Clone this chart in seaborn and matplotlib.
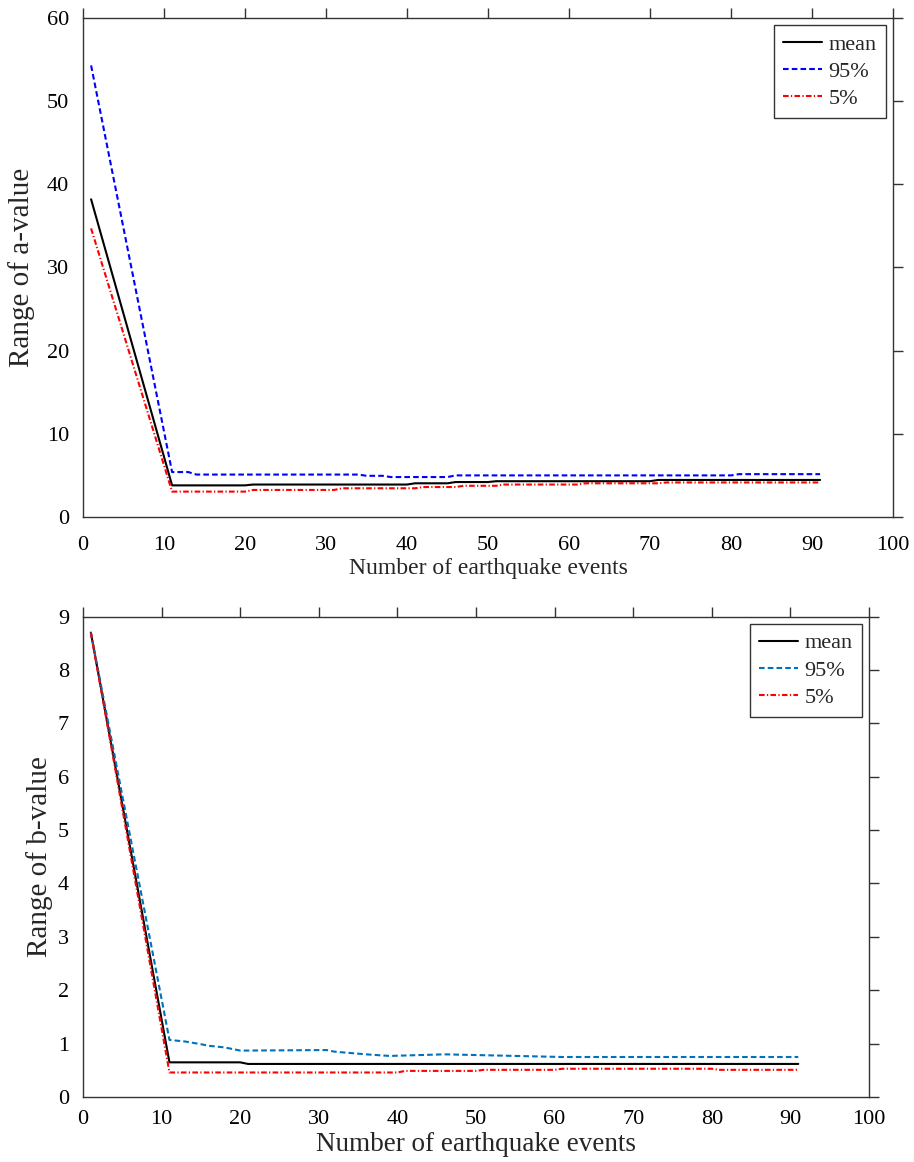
import numpy as np
import pandas as pd
import matplotlib
matplotlib.use("Agg")
import matplotlib.pyplot as plt
import seaborn as sns

# ---- data: range of a-value ----
a_mean_x = [1, 11, 20, 21, 40, 41, 45, 46, 50, 51, 70, 71, 91]
a_mean_y = [38.2, 3.8, 3.8, 3.9, 3.9, 4.05, 4.05, 4.2, 4.2, 4.3, 4.3, 4.45, 4.45]
a_p95_x = [1, 11, 13, 14, 34, 35, 37, 38, 45, 46, 80, 81, 91]
a_p95_y = [54.3, 5.4, 5.4, 5.1, 5.1, 4.95, 4.95, 4.8, 4.8, 5.0, 5.0, 5.15, 5.15]
a_p05_x = [1, 11, 20, 21, 31, 32, 41, 42, 46, 47, 51, 52, 61, 62, 71, 72, 91]
a_p05_y = [34.7, 3.05, 3.05, 3.25, 3.25, 3.45, 3.45, 3.6, 3.6, 3.75, 3.75, 3.9, 3.9, 4.05, 4.05, 4.15, 4.15]

# ---- data: range of b-value ----
b_mean_x = [1, 11, 20, 21, 91]
b_mean_y = [8.7, 0.65, 0.65, 0.62, 0.62]
b_p95_x = [1, 11, 13, 15, 16, 18, 20, 31, 32, 36, 39, 46, 55, 61, 91]
b_p95_y = [8.7, 1.07, 1.04, 0.99, 0.96, 0.93, 0.87, 0.88, 0.85, 0.80, 0.77, 0.80, 0.77, 0.75, 0.75]
b_p05_x = [1, 11, 40, 41, 50, 51, 60, 61, 80, 81, 91]
b_p05_y = [8.7, 0.46, 0.46, 0.49, 0.49, 0.51, 0.51, 0.53, 0.53, 0.51, 0.51]

legend_labels = ["mean", "95%", "5%"]
x_ticks = list(range(0, 101, 10))
a_ticks = list(range(0, 61, 10))
b_ticks = list(range(0, 10))

sns.set_theme(style="white")
plt.rcParams['font.family'] = ['Liberation Serif', 'DejaVu Serif']

fig = plt.figure(figsize=(9.14, 11.62), dpi=100)
ax1 = fig.add_axes([0.0908, 0.5551, 0.8862, 0.4294])
ax2 = fig.add_axes([0.0908, 0.0559, 0.8600, 0.4135])

DASH = (0, (2.7, 1.5))
DASHDOT = (0, (2.7, 1.1, 0.6, 1.1))

def draw(ax, xs, ys, colors, styles):
    for x, y, c, s, lab in zip(xs, ys, colors, styles, legend_labels):
        df = pd.DataFrame({"x": x, "y": y})
        sns.lineplot(data=df, x="x", y="y", ax=ax, color=c, linestyle=s,
                     linewidth=1.5, label=lab, estimator=None, sort=False)

draw(ax1, [a_mean_x, a_p95_x, a_p05_x], [a_mean_y, a_p95_y, a_p05_y],
     ["black", "#0000FF", "#FF0000"], ["-", DASH, DASHDOT])
draw(ax2, [b_mean_x, b_p95_x, b_p05_x], [b_mean_y, b_p95_y, b_p05_y],
     ["black", "#0072BD", "#FF0000"], ["-", DASH, DASHDOT])

cfg = [
    (ax1, (0, 60), a_ticks, "Range of a-value", 17, -0.0593, -0.082, 7),
    (ax2, (0, 9), b_ticks, "Range of b-value", 19.5, -0.038, -0.0718, 2),
]
for ax, ylim, yt, ylab, xfs, ylx, xly, xpad in cfg:
    ax.set_xlim(0, 100)
    ax.set_ylim(*ylim)
    ax.set_xticks(x_ticks)
    ax.set_yticks(yt)
    ax.tick_params(direction="out", top=True, right=True, length=7, width=1,
                   labelsize=16, colors="#333333", labelcolor="black")
    ax.tick_params(axis="x", pad=xpad)
    ax.tick_params(axis="y", pad=3)
    for sp in ax.spines.values():
        sp.set_color("#333333")
        sp.set_linewidth(1.0)
    ax.set_xlabel("Number of earthquake events", fontsize=xfs)
    ax.set_ylabel(ylab, fontsize=21)
    ax.yaxis.set_label_coords(ylx, 0.5)
    ax.xaxis.set_label_coords(0.5, xly)
    leg = ax.legend(loc="upper right", fontsize=16, frameon=True, fancybox=False,
                    edgecolor="black", handlelength=1.75, handletextpad=0.3,
                    borderpad=0.4, labelspacing=0.3, borderaxespad=0.33)
    leg.get_frame().set_linewidth(1.0)

fig.savefig("out.png", dpi=100)
